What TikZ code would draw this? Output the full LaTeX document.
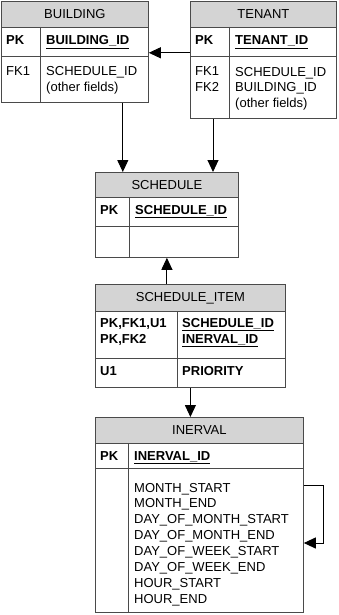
\documentclass[tikz,border=0pt]{standalone}
\usepackage{fontspec}
\setmainfont{Liberation Sans}
\usetikzlibrary{arrows.meta}
\definecolor{erline}{HTML}{4A4A4A}
\definecolor{erhead}{HTML}{D4D4D4}
\newcommand{\pkfield}[1]{\textbf{\underline{#1}}}

\begin{document}
\begin{tikzpicture}[
  x=1pt,
  y=-1pt,
  every node/.style={font=\fontsize{13}{15.9}\selectfont},
  head/.style={draw=erline, line width=0.8pt, fill=erhead, anchor=north west, inner sep=0pt},
  cell/.style={draw=erline, line width=0.8pt, anchor=north west, inner sep=0pt},
  divline/.style={erline, line width=0.8pt},
  fld/.style={anchor=base west, inner sep=0pt, align=left},
  rel/.style={black, line width=1pt, -{Triangle[length=12pt, width=11pt]}}
]
  \useasboundingbox (0,0) rectangle (338,615);

  % ---- BUILDING ---------------------------------------------------------
  % multi-line fields sit on the baseline of their last line
  \node[head, minimum width=147pt, minimum height=26pt] (bldhdr) at (1,1) {BUILDING};
  \node[cell, minimum width=147pt, minimum height=29pt] (bldpk) at (1,27) {};
  \node[cell, minimum width=147pt, minimum height=46pt] (bldbody) at (1,56) {};
  \draw[divline] ([xshift=39pt]bldpk.north west) -- ([xshift=39pt]bldbody.south west);
  \node[fld] (bldpkkey) at (6,45) {\textbf{PK}};
  \node[fld] (bldpkname) at (46,45) {\pkfield{BUILDING\_ID}};
  \node[fld] (bldfkkey) at (6,76) {FK1};
  \node[fld] (bldfkname) at (46,91.9) {SCHEDULE\_ID\\(other fields)};

  % ---- TENANT -----------------------------------------------------------
  \node[head, minimum width=146pt, minimum height=26pt] (tenhdr) at (190,1) {TENANT};
  \node[cell, minimum width=146pt, minimum height=29pt] (tenpk) at (190,27) {};
  \node[cell, minimum width=146pt, minimum height=62pt] (tenbody) at (190,56) {};
  \draw[divline] ([xshift=39pt]tenpk.north west) -- ([xshift=39pt]tenbody.south west);
  \node[fld] (tenpkkey) at (195,45) {\textbf{PK}};
  \node[fld] (tenpkname) at (235,45) {\pkfield{TENANT\_ID}};
  \node[fld] (tenfkkey) at (195,91.9) {FK1\\FK2};
  \node[fld] (tenfkname) at (235,107.8) {SCHEDULE\_ID\\BUILDING\_ID\\(other fields)};

  % ---- SCHEDULE ---------------------------------------------------------
  \node[head, minimum width=143pt, minimum height=25pt] (schhdr) at (95,172) {SCHEDULE};
  \node[cell, minimum width=143pt, minimum height=29pt] (schpk) at (95,197) {};
  \node[cell, minimum width=143pt, minimum height=31pt] (schbody) at (95,226) {};
  \draw[divline] ([xshift=34pt]schpk.north west) -- ([xshift=34pt]schbody.south west);
  \node[fld] (schpkkey) at (100,214) {\textbf{PK}};
  \node[fld] (schpkname) at (135,214) {\pkfield{SCHEDULE\_ID}};

  % ---- SCHEDULE_ITEM ----------------------------------------------------
  \node[head, minimum width=190pt, minimum height=27pt] (itmhdr) at (95,284) {SCHEDULE\_ITEM};
  \node[cell, minimum width=190pt, minimum height=47pt] (itmpk) at (95,311) {};
  \node[cell, minimum width=190pt, minimum height=29pt] (itmbody) at (95,358) {};
  \draw[divline] ([xshift=82pt]itmpk.north west) -- ([xshift=82pt]itmbody.south west);
  \node[fld] (itmpkkey) at (100,343) {\textbf{PK,FK1,U1}\\\textbf{PK,FK2}};
  \node[fld] (itmpkname) at (182,343) {\pkfield{SCHEDULE\_ID}\\\pkfield{INERVAL\_ID}};
  \node[fld] (itmukey) at (100,375) {\textbf{U1}};
  \node[fld] (itmuname) at (182,375) {\textbf{PRIORITY}};

  % ---- INERVAL ----------------------------------------------------------
  \node[head, minimum width=208pt, minimum height=26pt] (invhdr) at (95,417) {INERVAL};
  \node[cell, minimum width=208pt, minimum height=25pt] (invpk) at (95,443) {};
  \node[cell, minimum width=208pt, minimum height=144pt] (invbody) at (95,468) {};
  \draw[divline] ([xshift=33pt]invpk.north west) -- ([xshift=33pt]invbody.south west);
  \node[fld] (invpkkey) at (100,460) {\textbf{PK}};
  \node[fld] (invpkname) at (134,460) {\pkfield{INERVAL\_ID}};
  \foreach \fname [count=\i from 0] in {MONTH\_START, MONTH\_END,
      DAY\_OF\_MONTH\_START, DAY\_OF\_MONTH\_END, DAY\_OF\_WEEK\_START,
      DAY\_OF\_WEEK\_END, HOUR\_START, HOUR\_END}
    \node[fld] (invfld\i) at (134,{492+15.86*\i}) {\fname};

  % ---- relationships ----------------------------------------------------
  \draw[rel] ([yshift=4pt]tenpk.south west) -- ([yshift=4pt]bldpk.south east);
  \draw[rel] ([xshift=-26pt]bldbody.south east) -- ([xshift=-26pt]bldbody.south east |- schhdr.north);
  \draw[rel] ([xshift=23pt]tenbody.south west) -- ([xshift=23pt]tenbody.south west |- schhdr.north);
  \draw[rel] (itmhdr.north -| schbody.south) -- (schbody.south);
  \draw[rel] (itmbody.south) -- (itmbody.south |- invhdr.north);
  \draw[rel] ([yshift=-17pt]invbody.north east) -- ++(20,0)
    |- ([yshift=-75pt]invbody.north east);
\end{tikzpicture}
\end{document}
